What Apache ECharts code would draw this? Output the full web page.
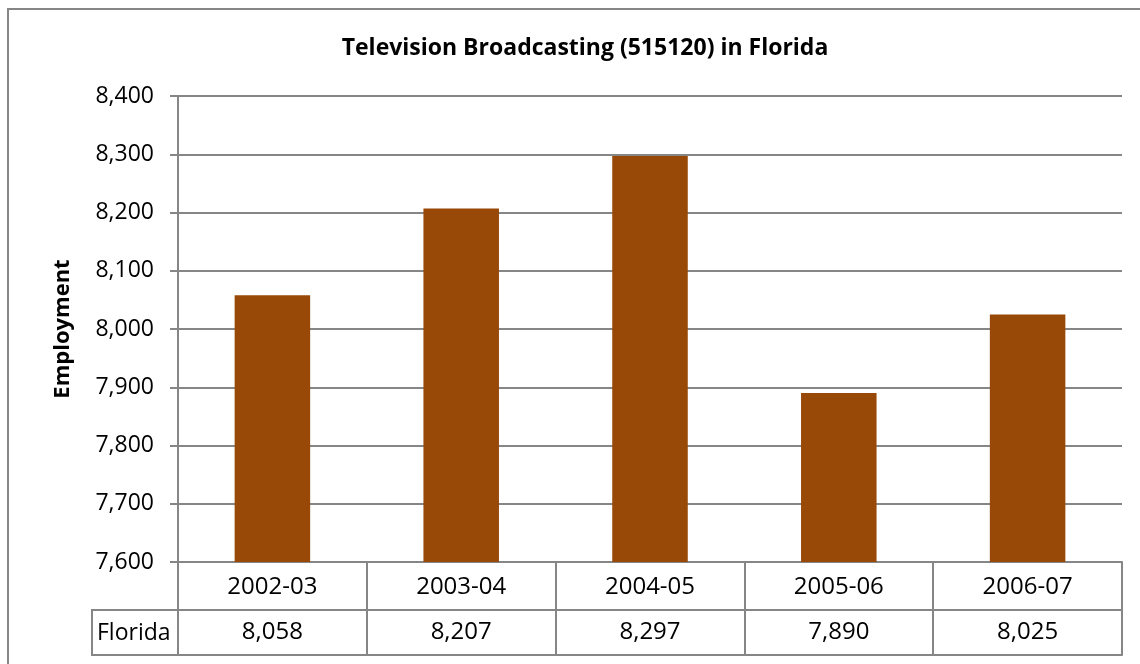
<!DOCTYPE html>
<html>
<head>
<meta charset="utf-8">
<script src="https://cdn.jsdelivr.net/npm/echarts@6/dist/echarts.min.js"></script>
<style>
  html, body { margin: 0; padding: 0; background: #fff; }
  #chart { width: 1140px; height: 664px; }
</style>
</head>
<body>
<div id="chart"></div>
<script>
// Annual employment, Television Broadcasting (NAICS 515120), Florida
const years = ['2002-03', '2003-04', '2004-05', '2005-06', '2006-07'];
const florida = [8058, 8207, 8297, 7890, 8025];
const seriesName = 'Florida';
const yMin = 7600, yMax = 8400, yStep = 100;

const FONT = '"Open Sans", sans-serif';
const GRAY = '#868686';
const BAR = '#984807';
const fmt = v => v.toLocaleString('en-US');

const chart = echarts.init(document.getElementById('chart'));
chart.setOption({
  animation: false,
  textStyle: { fontFamily: FONT },
  title: {
    text: 'Television Broadcasting (515120) in Florida',
    left: 580, textAlign: 'center', top: 32,
    textStyle: { fontFamily: FONT, fontSize: 23, fontWeight: 'bold', color: '#000' }
  },
  grid: { left: 178, right: 18, top: 96, bottom: 102, containLabel: false },
  xAxis: [
    {
      type: 'category', data: years, position: 'bottom',
      axisLine: { lineStyle: { color: GRAY, width: 2 } },
      axisTick: { show: true, interval: 0, length: 93, lineStyle: { color: GRAY, width: 2 } },
      axisLabel: { margin: 13, fontSize: 24, color: '#000', fontFamily: FONT, interval: 0 }
    },
    {
      type: 'category', data: years, position: 'bottom', offset: 48,
      axisLine: { lineStyle: { color: GRAY, width: 2 } },
      axisTick: { show: false },
      axisLabel: {
        margin: 10, fontSize: 24, color: '#000', fontFamily: FONT, interval: 0,
        formatter: (v, i) => fmt(florida[i])
      }
    },
    {
      type: 'category', data: years, position: 'bottom', offset: 93,
      axisLine: { lineStyle: { color: GRAY, width: 2 } },
      axisTick: { show: false },
      axisLabel: { show: false }
    }
  ],
  yAxis: {
    type: 'value', min: yMin, max: yMax, interval: yStep,
    name: 'Employment', nameLocation: 'middle', nameGap: 104,
    nameTextStyle: { fontFamily: FONT, fontSize: 22, fontWeight: 'bold', color: '#000' },
    axisLine: { show: true, lineStyle: { color: GRAY, width: 2 } },
    axisTick: { show: true, length: 8, lineStyle: { color: GRAY, width: 2 } },
    axisLabel: { margin: 24, fontSize: 23, color: '#000', fontFamily: FONT, formatter: v => fmt(v) },
    splitLine: { show: true, lineStyle: { color: GRAY, width: 2 } }
  },
  series: [{
    name: seriesName, type: 'bar', data: florida, barWidth: '40%',
    itemStyle: { color: BAR }
  }],
  graphic: [
    {
      type: 'rect', silent: true,
      shape: { x: 8, y: 9, width: 1140, height: 700 },
      style: { fill: 'none', stroke: GRAY, lineWidth: 2 }
    },
    {
      type: 'rect', silent: true,
      shape: { x: 92, y: 610, width: 86, height: 45 },
      style: { fill: 'none', stroke: GRAY, lineWidth: 2 }
    },
    {
      type: 'text', silent: true,
      style: { text: seriesName, x: 97, y: 633, verticalAlign: 'middle', fontFamily: FONT, fontSize: 23, fill: '#000' }
    }
  ]
});
</script>
</body>
</html>
